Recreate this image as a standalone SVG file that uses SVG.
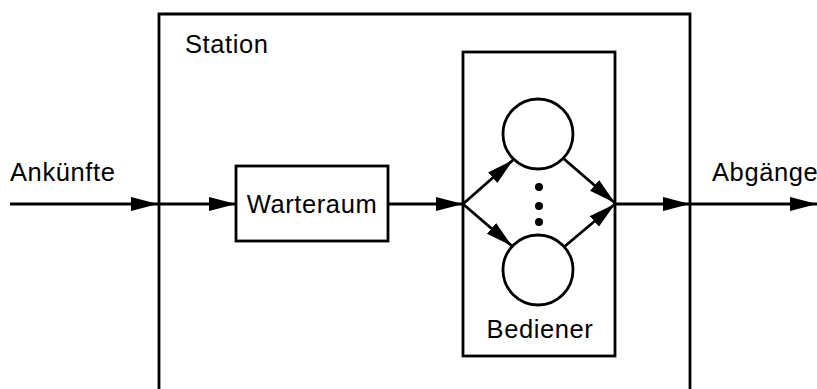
<svg xmlns="http://www.w3.org/2000/svg" width="817" height="389" viewBox="0 0 817 389">
  <style>
    .box { fill: none; stroke: #000; stroke-width: 2.8; }
    .line { fill: none; stroke: #000; stroke-width: 2.8; }
    .lbl { font-family: "Liberation Sans", Arial, sans-serif; font-size: 25.5px; fill: #000; letter-spacing: 0.6px; }
  </style>
  <defs>
    <marker id="arrow" markerUnits="userSpaceOnUse" markerWidth="28" markerHeight="16" refX="27" refY="7" orient="auto">
      <path d="M0,0 L27,7 L0,14 Z" fill="#000"/>
    </marker>
  </defs>

  <!-- station frame, open at the bottom -->
  <g id="station">
    <path class="box" d="M159,389 V14 H690 V389"/>
    <text class="lbl" x="185" y="53" letter-spacing="0">Station</text>
  </g>

  <g id="warteraum">
    <rect class="box" x="236" y="166" width="152" height="75"/>
    <text class="lbl" x="312" y="213" text-anchor="middle">Warteraum</text>
  </g>

  <g id="bediener">
    <rect class="box" x="463" y="52" width="152" height="304"/>
    <text class="lbl" x="540" y="338" text-anchor="middle">Bediener</text>
  </g>

  <g id="server-top">
    <circle class="box" cx="538" cy="134" r="35"/>
  </g>
  <g id="server-bottom">
    <circle class="box" cx="538" cy="270" r="35"/>
  </g>
  <g id="ellipsis">
    <circle cx="539" cy="187" r="4"/>
    <circle cx="539" cy="206" r="4"/>
    <circle cx="539" cy="222" r="4"/>
  </g>

  <g id="labels">
    <text class="lbl" x="10" y="181">Ankünfte</text>
    <text class="lbl" x="712" y="181" letter-spacing="0">Abgänge</text>
  </g>

  <g id="connectors">
    <line class="line" x1="10" y1="204" x2="158" y2="204" marker-end="url(#arrow)"/>
    <line class="line" x1="158" y1="204" x2="236" y2="204" marker-end="url(#arrow)"/>
    <line class="line" x1="388" y1="204" x2="463" y2="204" marker-end="url(#arrow)"/>
    <line class="line" x1="463" y1="204" x2="513" y2="160" marker-end="url(#arrow)"/>
    <line class="line" x1="463" y1="204" x2="512" y2="246" marker-end="url(#arrow)"/>
    <line class="line" x1="564" y1="159" x2="615" y2="203" marker-end="url(#arrow)"/>
    <line class="line" x1="564" y1="247" x2="615" y2="204" marker-end="url(#arrow)"/>
    <line class="line" x1="615" y1="204" x2="690" y2="204" marker-end="url(#arrow)"/>
    <line class="line" x1="690" y1="204" x2="817" y2="204" marker-end="url(#arrow)"/>
  </g>
</svg>
